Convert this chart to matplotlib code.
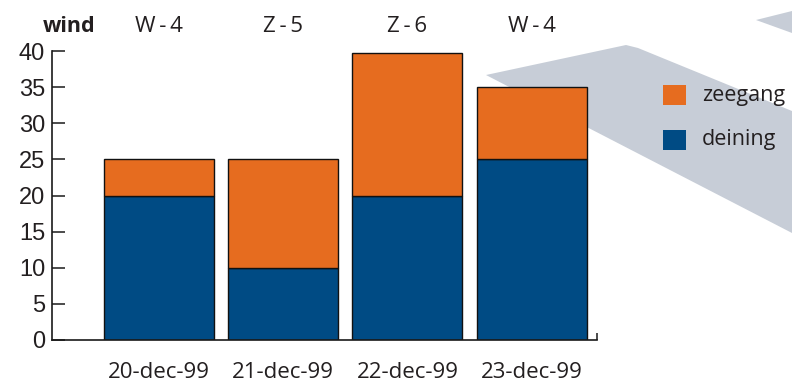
import matplotlib.pyplot as plt
from matplotlib.patches import Polygon, Rectangle
import numpy as np

# ------------------ data ------------------
dates = ['20-dec-99', '21-dec-99', '22-dec-99', '23-dec-99']
wind = ['W\u2009-\u20094', 'Z\u2009-\u20095', 'Z\u2009-\u20096', 'W\u2009-\u20094']
deining = [20, 10, 20, 25]
zeegang = [5, 15, 19.7, 10]

c_zee = '#e66c1f'
c_dei = '#004b84'
ink = '#231f20'
W, H = 792, 387

plt.rcParams['font.family'] = ['Open Sans', 'DejaVu Sans']

fig = plt.figure(figsize=(W / 100, H / 100), dpi=100)

# grijze achtergrondvlakken (pixelcoordinaten)
def px(pts):
    return [(x / W, 1 - y / H) for x, y in pts]

bg = '#c7cdd7'
fig.patches.append(Polygon(px([(486, 75), (626, 45), (638, 48), (792, 111), (792, 233)]),
                           closed=True, facecolor=bg, edgecolor='none',
                           transform=fig.transFigure, zorder=-2))
fig.patches.append(Polygon(px([(756, 20), (792, 11), (792, 33)]),
                           closed=True, facecolor=bg, edgecolor='none',
                           transform=fig.transFigure, zorder=-2))

ax = fig.add_axes([52 / W, 1 - 340 / H, (597 - 52) / W, (340 - 51) / H])
ax.set_facecolor('none')

x = np.arange(len(dates))
ax.bar(x, deining, width=0.884, color=c_dei, edgecolor='#111111', linewidth=1.0, zorder=2)
ax.bar(x, zeegang, width=0.884, bottom=deining, color=c_zee, edgecolor='#111111',
       linewidth=1.0, zorder=2)

ax.set_xlim(-0.86, 3.526)
ax.set_ylim(0, 40)
ax.spines['top'].set_visible(False)
ax.spines['right'].set_visible(False)
for s in ['left', 'bottom']:
    ax.spines[s].set_linewidth(1.2)
    ax.spines[s].set_color('#1a1a1a')

ax.set_yticks(range(0, 41, 5))
ax.tick_params(axis='y', direction='in', length=9.5, width=1.1, color='#1a1a1a',
               pad=5, labelsize=17, labelcolor=ink)
for lab in ax.get_yticklabels():
    lab.set_family('Liberation Sans')

ax.set_xticks(x)
ax.set_xticklabels(dates)
ax.tick_params(axis='x', length=0, pad=16, labelsize=16, labelcolor=ink)
# klein eindstreepje rechts op de x-as
ax.set_xticks([3.526], minor=True)
ax.tick_params(axis='x', which='minor', direction='in', length=5, width=1.1, color='#1a1a1a')

# windrichting boven de staven
for xi, w in zip(x, wind):
    ax.text(xi, 1.085, w, transform=ax.get_xaxis_transform(), ha='center', va='center',
            fontsize=16, color=ink)
fig.text(95 / W, 1 - 26 / H, 'wind', ha='right', va='center', fontsize=15.5,
         fontweight='bold', color=ink)

# legenda
for yy, col, lab in [(95, c_zee, 'zeegang'), (140, c_dei, 'deining')]:
    fig.patches.append(Rectangle((663 / W, 1 - (yy + 10) / H), 23 / W, 20 / H,
                                 facecolor=col, edgecolor='none', transform=fig.transFigure,
                                 zorder=1))
    fig.text(702 / W, 1 - yy / H, lab, ha='left', va='center', fontsize=15.5, color=ink)

fig.savefig('out.png', dpi=100)
